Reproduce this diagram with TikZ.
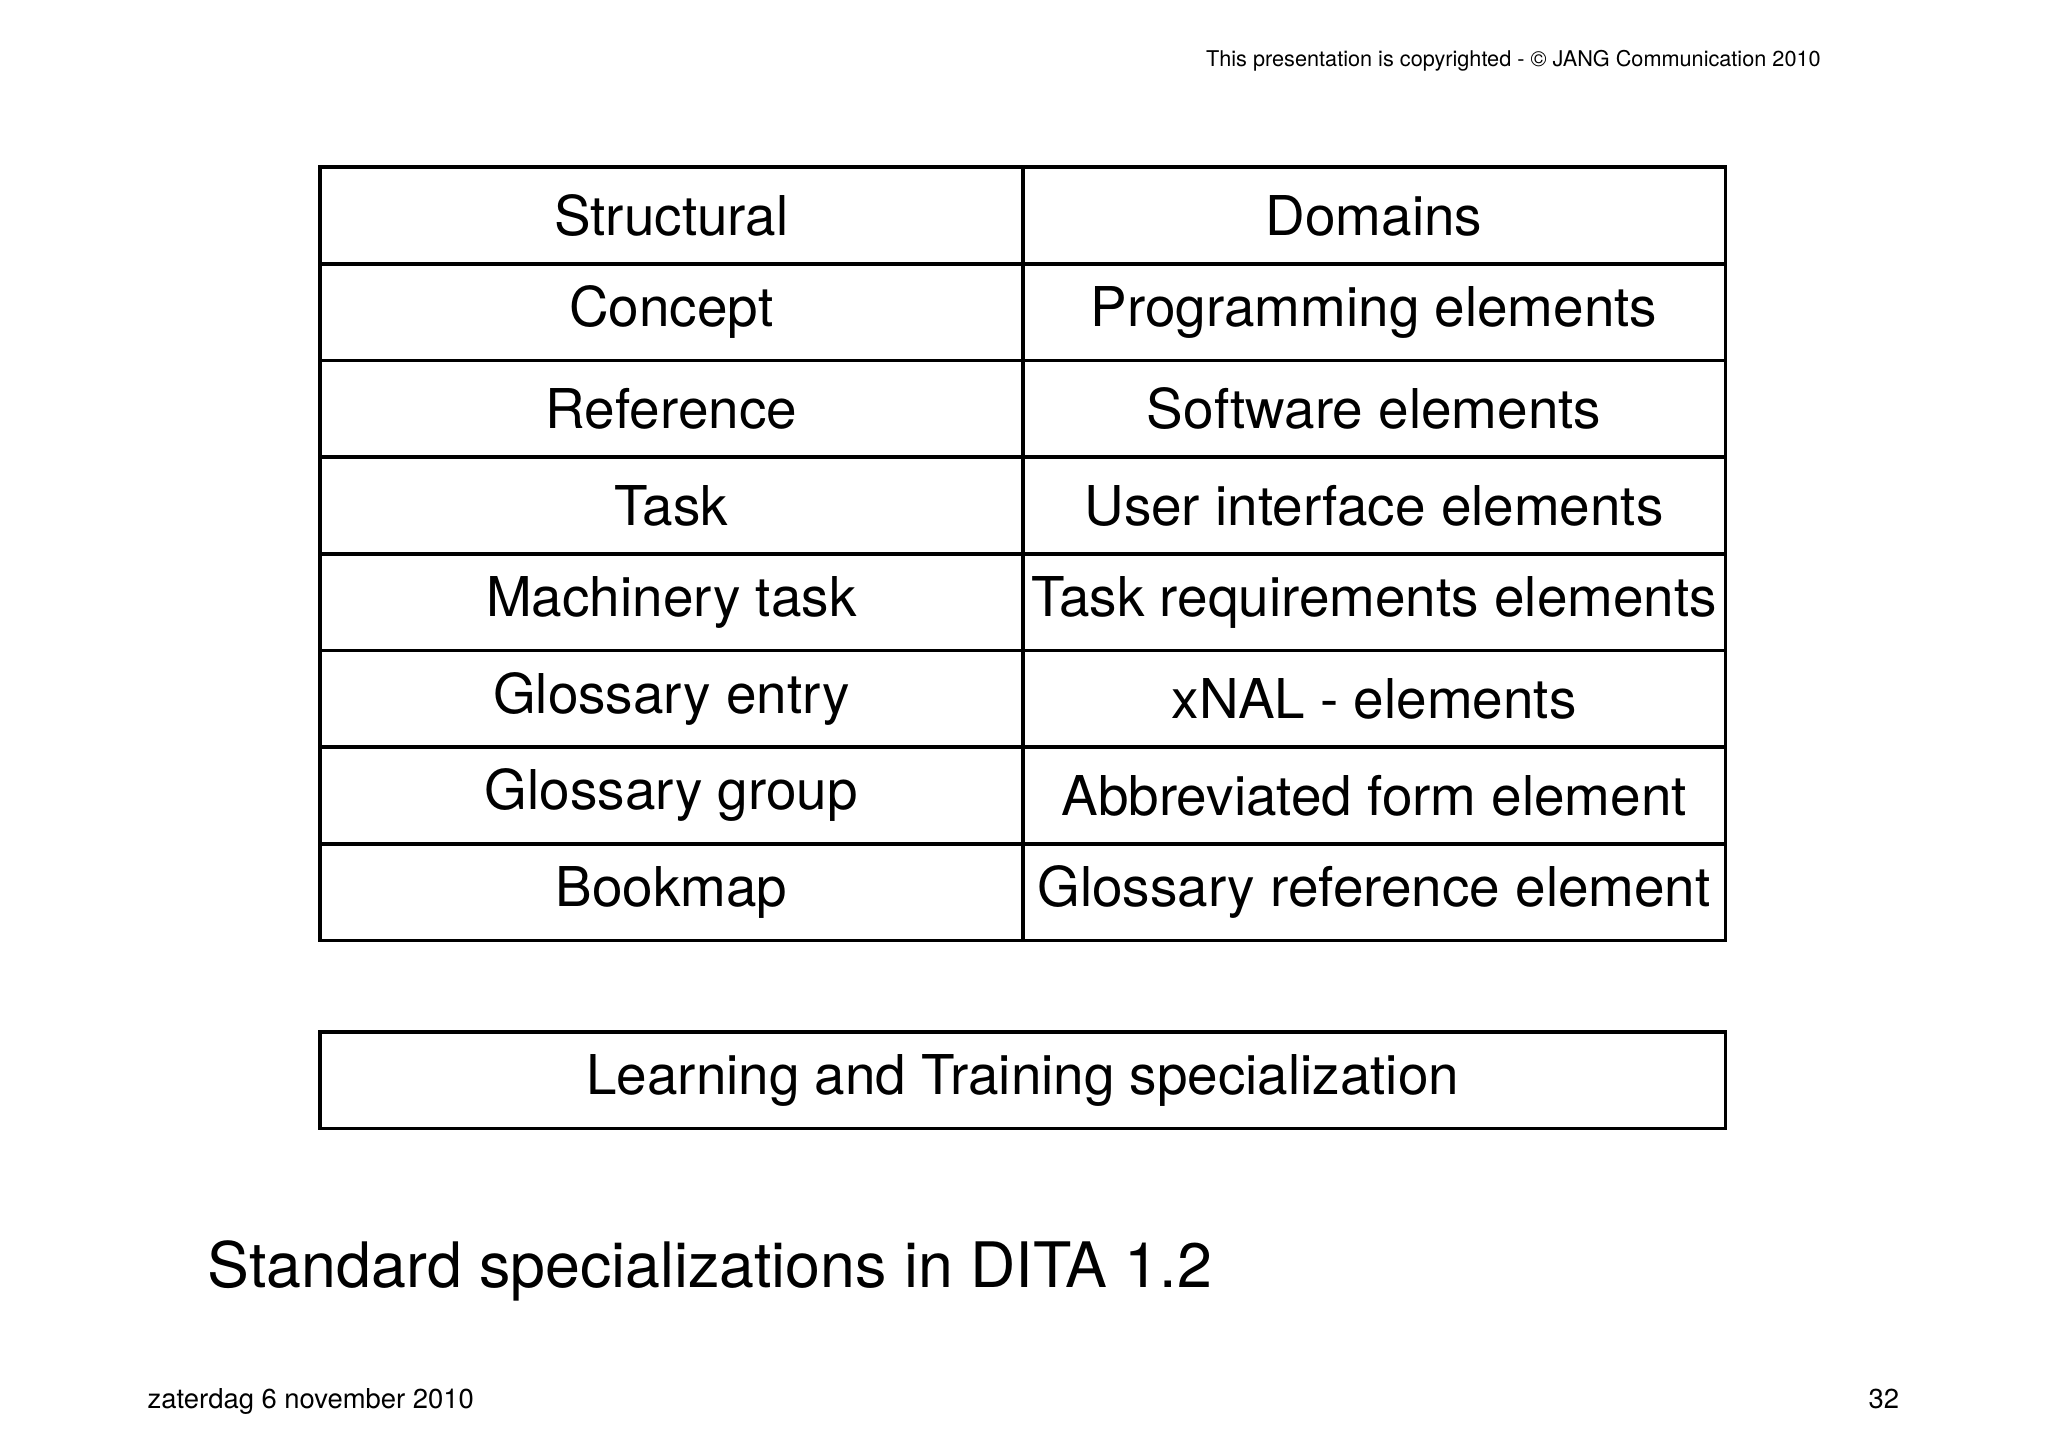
\documentclass[tikz,border=0pt]{standalone}
\usepackage{fontspec}
\setmainfont{TeX Gyre Heros}
\begin{document}
\begin{tikzpicture}[x=0.5pt,y=-0.5pt,
 cell/.style={draw,line width=1.4pt,inner sep=0pt,minimum width=269pt,minimum height=37pt,font=\fontsize{21}{24}\selectfont},
 wide/.style={cell,minimum width=538pt}]
\useasboundingbox[fill=white] (0,0) rectangle (1568,1108);
\node[anchor=base east,font=\fontsize{8.3}{10}\selectfont] (hdr) at (1401,51) {This presentation is copyrighted - © JANG Communication 2010};
\foreach \l/\r [count=\i from 0] in {Structural/Domains,Concept/Programming elements,Reference/Software elements,Task/User interface elements,Machinery task/Task requirements elements,Glossary entry/xNAL - elements,Glossary group/Abbreviated form element,Bookmap/Glossary reference element}{
 \node[cell] (l\i) at (514,165+74*\i) {\l};
 \node[cell] (r\i) at (1052,165+74*\i) {\r};
}
\node[wide] (lt) at (783,827) {Learning and Training specialization};
\node[anchor=base west,font=\fontsize{24}{28}\selectfont] (title) at (152,986) {Standard specializations in DITA 1.2};
\node[anchor=base west,font=\fontsize{10.5}{12}\selectfont] (date) at (106,1078) {zaterdag 6 november 2010};
\node[anchor=base east,font=\fontsize{10.5}{12}\selectfont] (pg) at (1461,1078) {32};
\end{tikzpicture}
\end{document}
